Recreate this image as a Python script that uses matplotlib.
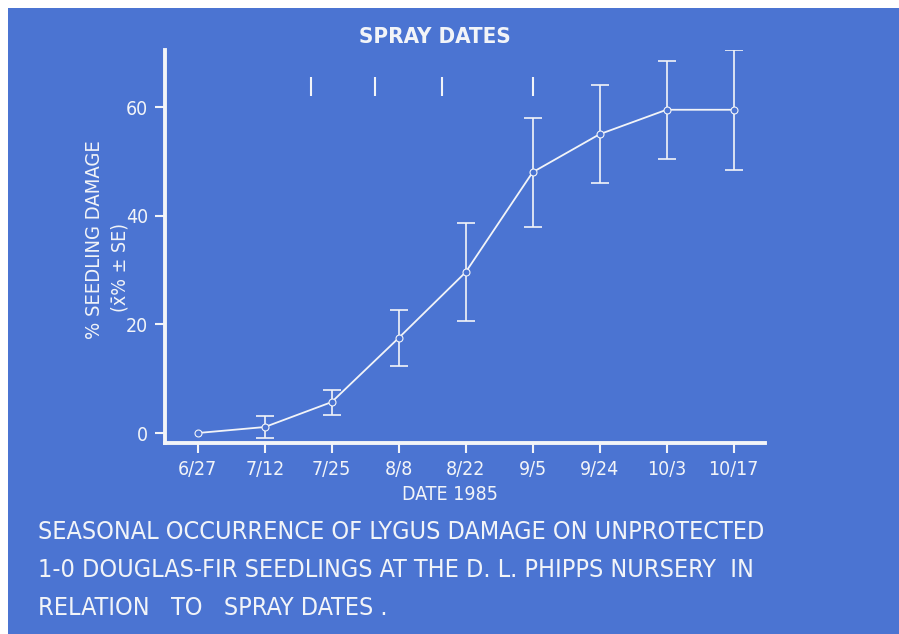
import numpy as np
import matplotlib
matplotlib.use('Agg')
import matplotlib.pyplot as plt
from matplotlib.patches import Rectangle

plt.rcParams['font.family'] = ['DejaVu Sans']
plt.rcParams['font.stretch'] = 'condensed'

# data
dates = ['6/27', '7/12', '7/25', '8/8', '8/22', '9/5', '9/24', '10/3', '10/17']
day_of_year = [178, 193, 206, 220, 234, 248, 267, 276, 290]
damage = [0, 1.1, 5.7, 17.5, 29.6, 48.0, 55.0, 59.5, 59.5]
se = [0, 2.0, 2.3, 5.2, 9.0, 10.0, 9.0, 9.0, 11.0]
spray_days = [202, 215, 229, 248]   # 7/21, 8/3, 8/17, 9/5

bg = '#4b74d2'
fg = '#f2f4f8'

fig = plt.figure(figsize=(8.99, 6.34), dpi=100)
fig.patch.set_facecolor('white')
fig.patches.append(Rectangle((8/899, 0), 1, 1 - 8/634, transform=fig.transFigure,
                             facecolor=bg, edgecolor='none', zorder=-10))

ax = fig.add_axes([165/899, 1 - 443/634, 600/899, 393/634])
ax.set_facecolor('none')

x = np.arange(len(dates))
dmg = np.array(damage)
err = np.array(se)
has_err = err > 0
ax.errorbar(x[has_err], dmg[has_err], yerr=err[has_err], fmt='none', ecolor=fg,
            elinewidth=1.2, capsize=6.5, capthick=1.2, zorder=2)
ax.plot(x, dmg, color=fg, lw=1.3, zorder=3)
ax.plot(x, dmg, 'o', ms=5, mfc=bg, mec=fg, mew=0.8, zorder=4)

# spray dates as short marks above the curve
spray_x = np.interp(spray_days, day_of_year, x)
ax.vlines(spray_x, 62, 65.5, color=fg, lw=1.5)

ax.set_xlim(-0.49, 8.47)
ax.set_ylim(-1.84, 70.5)
ax.set_xticks(x)
ax.set_xticklabels(dates)
ax.set_yticks([0, 20, 40, 60])

for s in ['top', 'right']:
    ax.spines[s].set_visible(False)
for s in ['left', 'bottom']:
    ax.spines[s].set_color(fg)
    ax.spines[s].set_linewidth(2.8)
ax.tick_params(colors=fg, labelcolor=fg, width=1.5, length=7, labelsize=14, pad=5)

fig.text(435/899, 1 - 37/634, 'SPRAY DATES', color=fg, fontsize=16,
         fontweight='bold', ha='center', va='center')
fig.text(450/899, 1 - 495/634, 'DATE 1985', color=fg, fontsize=14,
         ha='center', va='center')
fig.text(95/899, 1 - 240/634, '% SEEDLING DAMAGE', color=fg, fontsize=14.5,
         rotation=90, ha='center', va='center')
fig.text(120/899, 1 - 268/634, '(x\u0304% \u00b1 SE)', color=fg, fontsize=14,
         rotation=90, ha='center', va='center')

caption = ['SEASONAL OCCURRENCE OF LYGUS DAMAGE ON UNPROTECTED',
           '1-0 DOUGLAS-FIR SEEDLINGS AT THE D. L. PHIPPS NURSERY  IN',
           'RELATION   TO   SPRAY DATES .']
for i, line in enumerate(caption):
    fig.text(38/899, 1 - (532 + 38*i)/634, line, color=fg, fontsize=18,
             ha='left', va='center')

fig.savefig('out.png', dpi=100, facecolor=fig.get_facecolor())
